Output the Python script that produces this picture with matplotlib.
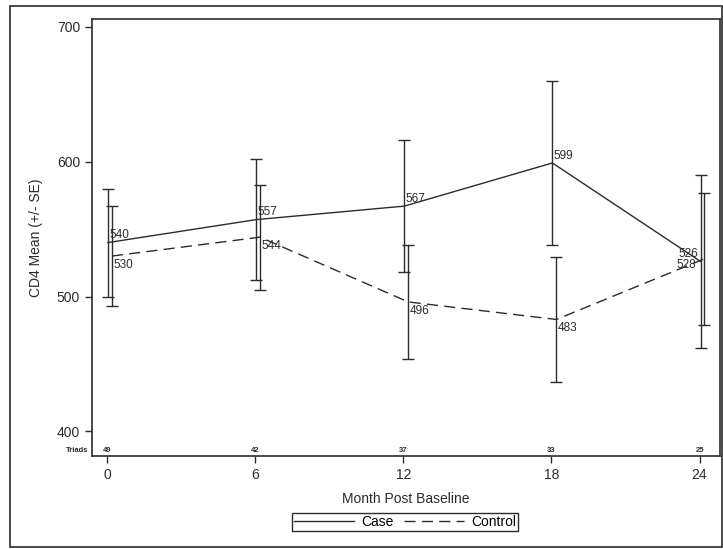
import matplotlib
matplotlib.use("Agg")
import matplotlib.pyplot as plt
from matplotlib.lines import Line2D
from matplotlib.patches import Rectangle

plt.rcParams['font.family'] = ['Liberation Sans', 'DejaVu Sans']

months = [0, 6, 12, 18, 24]
case_mean = [540, 557, 567, 599, 526]
case_se = [40, 45, 49, 61, 64]
control_mean = [530, 544, 496, 483, 528]
control_se = [37, 39, 42, 46, 49]
triads = [49, 42, 37, 33, 25]

ink = '#2b2b2b'

fig = plt.figure(figsize=(7.23, 5.49), dpi=100)
ax = fig.add_axes([0.1272, 0.1694, 0.8687, 0.796])

# outer frame round the whole graph
fig.patches.append(Rectangle((10 / 723, 1 - 547 / 549), 712 / 723, 541 / 549,
                             transform=fig.transFigure, fill=False,
                             edgecolor=ink, lw=1.2))

case_x = [m + 0.04 for m in months]
ctrl_x = [m + 0.2 for m in months]

ax.errorbar(case_x, case_mean, yerr=case_se, color=ink, lw=1.0,
            elinewidth=1.0, capsize=4.5, capthick=1.0)
ax.errorbar(ctrl_x, control_mean, yerr=control_se, color=ink, lw=1.0,
            elinewidth=1.0, capsize=4.5, capthick=1.0, dashes=(8, 4.5))

# value labels: right of the point, except the last ones which go left
last = len(months) - 1
for i, (x, y) in enumerate(zip(case_x, case_mean)):
    if i == last:
        ax.annotate(str(y), (x, y), xytext=(-2, 5.5), textcoords='offset points',
                    fontsize=8.5, color=ink, va='center', ha='right')
    else:
        ax.annotate(str(y), (x, y), xytext=(1, 1), textcoords='offset points',
                    fontsize=8.5, color=ink, va='bottom', ha='left')
for i, (x, y) in enumerate(zip(ctrl_x, control_mean)):
    if i == last:
        ax.annotate(str(y), (x, y), xytext=(-6, -4.5), textcoords='offset points',
                    fontsize=8.5, color=ink, va='center', ha='right')
    else:
        ax.annotate(str(y), (x, y), xytext=(1, -2), textcoords='offset points',
                    fontsize=8.5, color=ink, va='top', ha='left')

# number of triads along the bottom
for m, n in zip(months, triads):
    ax.text(m, 383, str(n), fontsize=5.5, fontweight='bold', ha='center',
            va='bottom', color=ink)
ax.text(-0.75, 383, 'Triads', fontsize=5.5, fontweight='bold', ha='right',
        va='bottom', color=ink)

ax.set_xlim(-0.61, 24.83)
ax.set_ylim(381.8, 705.7)
ax.set_xticks(months)
ax.set_yticks([400, 500, 600, 700])
ax.tick_params(direction='out', length=5, width=1, colors=ink, labelsize=10,
               labelcolor=ink)
for s in ax.spines.values():
    s.set_color(ink)
    s.set_linewidth(1.2)

ax.set_xlabel('Month Post Baseline', fontsize=10, color=ink, labelpad=7)
ax.set_ylabel('CD4 Mean (+/- SE)', fontsize=10, color=ink, labelpad=10)

handles = [Line2D([], [], color=ink, lw=1.0),
           Line2D([], [], color=ink, lw=1.0, dashes=(8, 4.5))]
leg = fig.legend(handles, ['Case', 'Control'], loc='center',
                 bbox_to_anchor=(405 / 723, 1 - 522 / 549), ncol=2,
                 fontsize=10, handlelength=4.3, fancybox=False,
                 framealpha=1, edgecolor=ink, borderpad=0.15,
                 columnspacing=0.8, handletextpad=0.5, borderaxespad=0)
leg.get_frame().set_linewidth(1.0)

fig.savefig('out.png', dpi=100)
